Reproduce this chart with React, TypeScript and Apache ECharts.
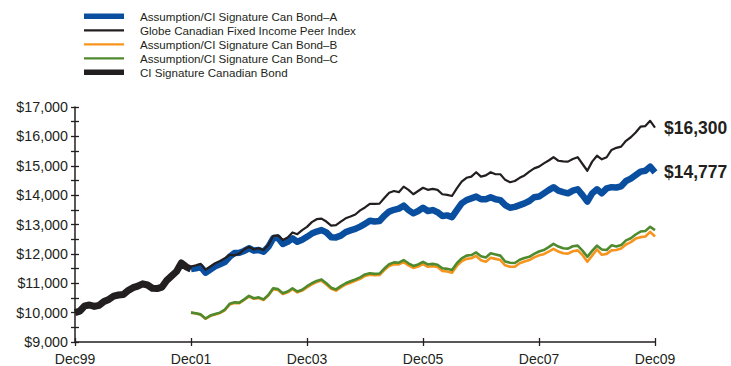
import React, { useEffect, useRef } from 'react';
import * as echarts from 'echarts';

// Axis labels
const tickLabels = ['Dec99', 'Dec01', 'Dec03', 'Dec05', 'Dec07', 'Dec09'];
const monthsPerTick = 24;
const yMin = 9000;
const yMax = 17000;

// Month index (0 = Dec99) where each series begins
const signatureStart = 0;
const fundStart = 24;

// Growth of $10,000, monthly values
const signatureValues = [
  10000, 10050, 10230, 10260, 10210, 10250, 10380, 10450, 10560, 10600,
  10620, 10750, 10850, 10900, 10980, 10940, 10830, 10820, 10870, 11100,
  11250, 11400, 11690, 11560, 11480,
];

const classAValues = [
  11480, 11510, 11560, 11360, 11470, 11580, 11650, 11720, 11900, 12030,
  12040, 12100, 12190, 12110, 12130, 12070, 12240, 12530, 12550, 12340,
  12410, 12530, 12410, 12480, 12580, 12690, 12760, 12810, 12730, 12570,
  12560, 12620, 12740, 12800, 12850, 12930, 13020, 13130, 13100, 13120,
  13300, 13440, 13500, 13540, 13640, 13490, 13380, 13460, 13570, 13460,
  13490, 13420, 13290, 13310, 13250, 13490, 13720, 13830, 13890, 13950,
  13860, 13860, 13930, 13860, 13830, 13660, 13570, 13600, 13660, 13720,
  13800, 13930, 13950, 14060, 14170, 14270, 14150, 14100, 14060, 14150,
  14200, 14000, 13780, 14060, 14200, 14060, 14230, 14270, 14260, 14300,
  14480, 14560, 14680, 14800, 14830, 14970, 14777,
];

const peerValues = [
  11570, 11610, 11660, 11460, 11570, 11680, 11760, 11850, 11970, 11950,
  12010, 12150, 12240, 12150, 12190, 12130, 12300, 12610, 12630, 12470,
  12560, 12730, 12670, 12810, 12920, 13080, 13180, 13200, 13100, 12960,
  12980, 13100, 13210, 13270, 13340, 13480, 13580, 13700, 13700, 13710,
  13900, 14080, 14140, 14100, 14290, 14180, 14030, 14140, 14250, 14180,
  14210, 14180, 14030, 14010, 13970, 14230, 14460, 14590, 14630, 14780,
  14630, 14670, 14780, 14710, 14710, 14520, 14440, 14480, 14590, 14670,
  14800, 14910, 14970, 15080, 15180, 15290, 15170, 15150, 15140, 15230,
  15290, 15060, 14830, 15140, 15340, 15220, 15290, 15540, 15610, 15650,
  15850, 15970, 16130, 16330, 16350, 16530, 16300,
];

const classBValues = [
  10000, 9970, 9930, 9790, 9890, 9940, 9990, 10080, 10280, 10330,
  10320, 10430, 10550, 10470, 10500, 10430, 10580, 10800, 10770, 10630,
  10690, 10800, 10690, 10750, 10860, 10960, 11040, 11090, 10960, 10810,
  10750, 10860, 10960, 11020, 11080, 11150, 11250, 11290, 11270, 11280,
  11450, 11590, 11650, 11640, 11720, 11610, 11520, 11570, 11650, 11560,
  11580, 11550, 11420, 11400, 11360, 11590, 11750, 11830, 11850, 11930,
  11780, 11730, 11870, 11830, 11790, 11610, 11560, 11560, 11680, 11740,
  11790, 11880, 11950, 11990, 12080, 12170, 12080, 12020, 12010, 12090,
  12120, 11960, 11730, 11940, 12150, 11970, 12000, 12120, 12130, 12180,
  12320, 12400, 12520, 12570, 12590, 12750, 12590,
];

const classCValues = [
  10000, 9980, 9940, 9800, 9900, 9950, 10000, 10100, 10300, 10350,
  10340, 10450, 10570, 10490, 10520, 10450, 10600, 10830, 10800, 10660,
  10720, 10830, 10720, 10780, 10900, 11000, 11080, 11130, 11000, 10850,
  10790, 10900, 11000, 11070, 11130, 11200, 11300, 11340, 11320, 11330,
  11500, 11650, 11710, 11700, 11790, 11680, 11590, 11640, 11730, 11640,
  11660, 11630, 11510, 11490, 11450, 11680, 11850, 11940, 11960, 12050,
  11920, 11880, 12020, 11980, 11940, 11740, 11700, 11690, 11800, 11860,
  11900, 12000, 12080, 12130, 12230, 12340, 12250, 12190, 12180, 12260,
  12280, 12110, 11900, 12100, 12280, 12150, 12130, 12290, 12250, 12300,
  12460, 12530, 12660, 12760, 12780, 12920, 12810,
];

const seriesNames = {
  a: 'Assumption/CI Signature Can Bond–A',
  peer: 'Globe Canadian Fixed Income Peer Index',
  b: 'Assumption/CI Signature Can Bond–B',
  c: 'Assumption/CI Signature Can Bond–C',
  signature: 'CI Signature Canadian Bond',
};

const INK = '#231f20';
const BLUE = '#0a4f9f';
const ORANGE = '#f7941d';
const GREEN = '#4f8a2e';
const FONT = '"Liberation Sans", Arial, Helvetica, sans-serif';

const toPairs = (start: number, values: number[]) =>
  values.map((v, i) => [start + i, v]);

const money = (v: number) => '$' + Math.round(v).toLocaleString('en-US');

export default function App() {
  const ref = useRef<HTMLDivElement>(null);

  useEffect(() => {
    if (!ref.current) return;
    const chart = echarts.init(ref.current, null, { renderer: 'svg' });

    const legendRows = [
      { name: seriesNames.a, color: BLUE, width: 5.5 },
      { name: seriesNames.peer, color: INK, width: 2.3 },
      { name: seriesNames.b, color: ORANGE, width: 2.3 },
      { name: seriesNames.c, color: GREEN, width: 2.3 },
      { name: seriesNames.signature, color: INK, width: 5.5 },
    ];
    const legendGraphics: any[] = [];
    legendRows.forEach((row, i) => {
      const y = 16.3 + i * 14;
      legendGraphics.push({
        type: 'line',
        shape: { x1: 84, y1: y, x2: 124, y2: y },
        style: { stroke: row.color, lineWidth: row.width },
      });
      legendGraphics.push({
        type: 'text',
        x: 140,
        y,
        style: {
          text: row.name,
          fill: INK,
          fontSize: 11.6,
          fontFamily: FONT,
          verticalAlign: 'middle',
        },
      });
    });

    const endLabel = {
      show: true,
      formatter: (p: any) => money(p.value[1]),
      distance: 9,
      fontSize: 17.5,
      fontWeight: 'bold',
      fontFamily: FONT,
      color: INK,
    };

    chart.setOption({
      animation: false,
      grid: { left: 75, right: 76, top: 107, bottom: 24, outerBoundsMode: 'none' },
      graphic: legendGraphics,
      xAxis: [
        {
          type: 'value',
          min: 0,
          max: 120,
          interval: monthsPerTick,
          axisLine: { show: true, onZero: false, lineStyle: { color: INK, width: 1.5 } },
          axisTick: { show: true, length: 4, lineStyle: { color: INK, width: 1.3 } },
          axisLabel: {
            margin: 10,
            lineHeight: 13,
            color: INK,
            fontSize: 14,
            fontFamily: FONT,
            formatter: (v: number) => tickLabels[Math.round(v / monthsPerTick)] ?? '',
          },
          splitLine: { show: false },
        },
        {
          type: 'value',
          position: 'bottom',
          min: 0,
          max: 120,
          interval: monthsPerTick,
          axisLine: { show: false },
          axisTick: { show: true, inside: true, length: 4, lineStyle: { color: INK, width: 1.3 } },
          axisLabel: { show: false },
          splitLine: { show: false },
        },
      ],
      yAxis: [
        {
          type: 'value',
          min: yMin,
          max: yMax,
          interval: 500,
          axisLine: { show: true, lineStyle: { color: INK, width: 1.5 } },
          axisTick: { show: true, length: 4, lineStyle: { color: INK, width: 1.3 } },
          axisLabel: {
            margin: 7,
            color: INK,
            fontSize: 14.3,
            fontFamily: FONT,
            formatter: (v: number) => (v % 1000 === 0 ? money(v) : ''),
          },
          splitLine: { show: false },
        },
        {
          type: 'value',
          position: 'left',
          min: yMin,
          max: yMax,
          interval: 500,
          axisLine: { show: false },
          axisTick: { show: true, inside: true, length: 4, lineStyle: { color: INK, width: 1.3 } },
          axisLabel: { show: false },
          splitLine: { show: false },
        },
      ],
      series: [
        {
          name: seriesNames.b,
          type: 'line',
          data: toPairs(fundStart, classBValues),
          symbol: 'none',
          lineStyle: { color: ORANGE, width: 2.6, join: 'round' },
        },
        {
          name: seriesNames.c,
          type: 'line',
          data: toPairs(fundStart, classCValues),
          symbol: 'none',
          lineStyle: { color: GREEN, width: 2.6, join: 'round' },
        },
        {
          name: seriesNames.a,
          type: 'line',
          data: toPairs(fundStart, classAValues),
          symbol: 'none',
          lineStyle: { color: BLUE, width: 6.5, join: 'round' },
          endLabel,
        },
        {
          name: seriesNames.peer,
          type: 'line',
          data: toPairs(fundStart, peerValues),
          symbol: 'none',
          lineStyle: { color: INK, width: 2.2, join: 'round' },
          endLabel,
        },
        {
          name: seriesNames.signature,
          type: 'line',
          data: toPairs(signatureStart, signatureValues),
          symbol: 'none',
          lineStyle: { color: INK, width: 7, join: 'round' },
        },
      ],
    });

    return () => chart.dispose();
  }, []);

  return (
    <div
      ref={ref}
      style={{ position: 'absolute', left: 0, top: 0, width: 731, height: 366, background: '#fff' }}
    />
  );
}
